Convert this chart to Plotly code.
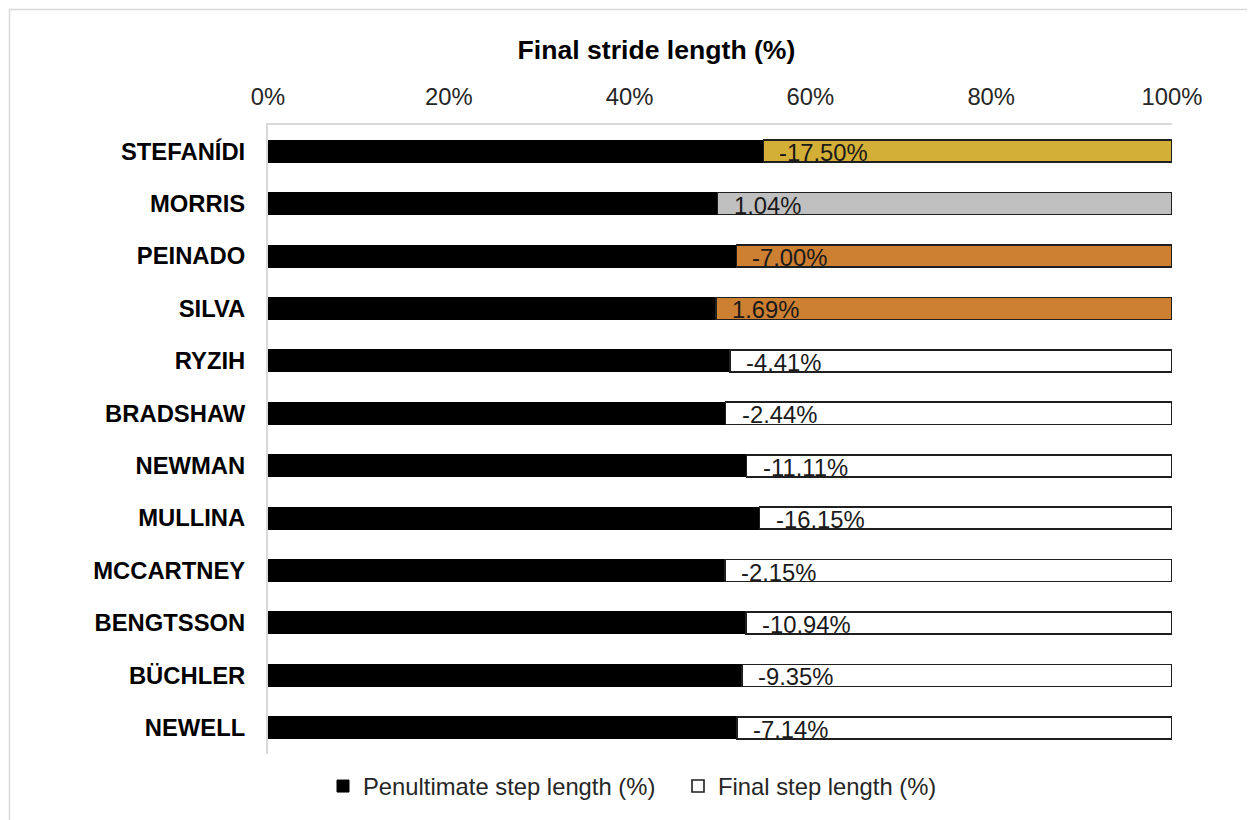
import plotly.graph_objects as go

# Data (top-to-bottom display order)
athletes = ["STEFANÍDI", "MORRIS", "PEINADO", "SILVA", "RYZIH", "BRADSHAW",
            "NEWMAN", "MULLINA", "MCCARTNEY", "BENGTSSON", "BÜCHLER", "NEWELL"]
penultimate = [54.79, 49.74, 51.81, 49.58, 51.13, 50.62,
               52.94, 54.39, 50.54, 52.89, 52.45, 51.85]
final = [45.21, 50.26, 48.19, 50.42, 48.87, 49.38,
         47.06, 45.61, 49.46, 47.11, 47.55, 48.15]
diff_labels = ["-17.50%", "1.04%", "-7.00%", "1.69%", "-4.41%", "-2.44%",
               "-11.11%", "-16.15%", "-2.15%", "-10.94%", "-9.35%", "-7.14%"]
tick_vals = [0, 20, 40, 60, 80, 100]
tick_text = ["0%", "20%", "40%", "60%", "80%", "100%"]

# Styles
final_colors = ["#D4AF37", "#C0C0C0", "#CD7F32", "#CD7F32"] + ["#FFFFFF"] * 8
FONT = "Liberation Sans, Arial, sans-serif"
FS = 23.8

# page has an 8px body margin; layout numbers below are figure coords
L, R, T, B = 260, 91, 117, 74
PW, PH = 1255 - L - R, 820 - T - B

# feed bottom-to-top so first category sits at the bottom
y_bt = athletes[::-1]

fig = go.Figure()
fig.add_trace(go.Bar(
    y=y_bt, x=penultimate[::-1], orientation="h",
    name="Penultimate step length (%)",
    marker=dict(color="#000000", line=dict(color="#000000", width=1)),
    hoverinfo="x+y",
))
fig.add_trace(go.Bar(
    y=y_bt, x=final[::-1], orientation="h",
    name="Final step length (%)",
    marker=dict(color=final_colors[::-1], line=dict(color="#1F1F1F", width=1.6)),
    hoverinfo="x+y",
))

for name, p, lab in zip(athletes, penultimate, diff_labels):
    fig.add_annotation(
        x=p, y=name, xref="x", yref="y", text=lab, showarrow=False,
        xanchor="left", yanchor="middle", xshift=14, yshift=-1.5,
        font=dict(family=FONT, size=FS, color="#1A1A1A"),
    )

fig.update_layout(
    width=1255, height=820,
    margin=dict(l=L, r=R, t=T, b=B, autoexpand=False),
    paper_bgcolor="white", plot_bgcolor="white",
    barmode="stack", bargap=0.58,
    font=dict(family=FONT, size=FS, color="#262626"),
    title=dict(
        text="<b>Final stride length (%)</b>",
        x=648.5 / 1255, xref="container", xanchor="center",
        y=1 - 42 / 820, yref="container", yanchor="middle",
        font=dict(family=FONT, size=26.6, color="#000000"),
    ),
    xaxis=dict(
        side="top", range=[0, 100], tickvals=tick_vals, ticktext=tick_text,
        showgrid=False, zeroline=False, showline=True, linecolor="#D9D9D9",
        linewidth=2, ticks="", ticklabelstandoff=8,
        tickfont=dict(family=FONT, size=FS, color="#262626"),
    ),
    yaxis=dict(
        showgrid=False, zeroline=False, showline=True, linecolor="#D9D9D9",
        linewidth=2, ticks="", ticklabelstandoff=16,
        tickfont=dict(family=FONT, size=FS, color="#000000", weight="bold"),
    ),
    legend=dict(
        orientation="h", x=(323 - 8 - L) / PW, xanchor="left",
        y=-0.016, yanchor="top", entrywidth=310, entrywidthmode="pixels",
        font=dict(family=FONT, size=FS, color="#262626"),
        traceorder="normal", itemclick=False,
    ),
    shapes=[dict(
        type="rect", xref="paper", yref="paper",
        x0=(1.5 - L) / PW, x1=1.3, y0=-0.3, y1=(PH + T - 1.5) / PH,
        line=dict(color="#D9D9D9", width=1.5), fillcolor="rgba(0,0,0,0)",
        layer="below",
    )],
)

fig.write_html("out.html")
